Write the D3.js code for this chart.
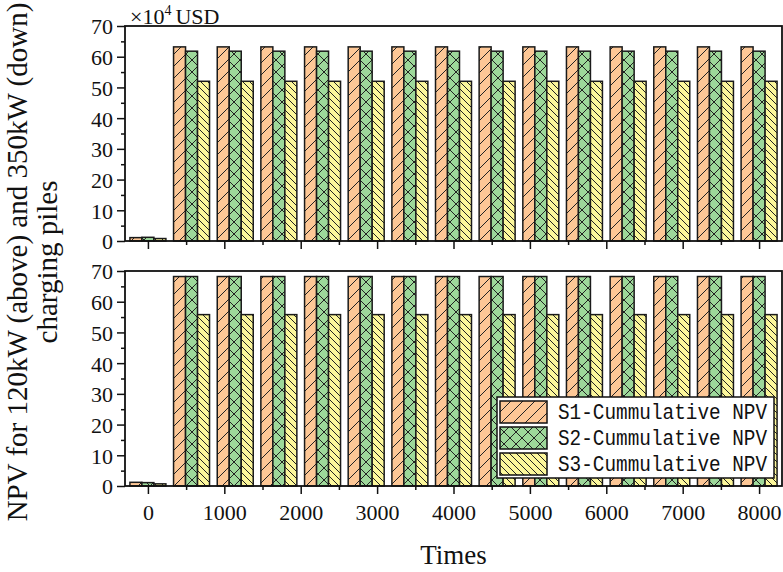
<!DOCTYPE html>
<html>
<head>
<meta charset="utf-8">
<script src="https://cdn.jsdelivr.net/npm/d3@7"></script>
<style>
  body { margin: 0; background: #fff; }
  svg { display: block; }
  text { font-family: "Liberation Serif", "Times New Roman", serif; fill: #111; }
</style>
</head>
<body>
<div id="viz"></div>
<script>
const times = [0, 571, 1143, 1714, 2286, 2857, 3429, 4000, 4571, 5143, 5714, 6286, 6857, 7429, 8000];

// upper panel: 120kW piles
const topS1 = [1.1, 63.2, 63.2, 63.2, 63.2, 63.2, 63.2, 63.2, 63.2, 63.2, 63.2, 63.2, 63.2, 63.2, 63.2];
const topS2 = [1.2, 61.8, 61.8, 61.8, 61.8, 61.8, 61.8, 61.8, 61.8, 61.8, 61.8, 61.8, 61.8, 61.8, 61.8];
const topS3 = [0.8, 52.0, 52.0, 52.0, 52.0, 52.0, 52.0, 52.0, 52.0, 52.0, 52.0, 52.0, 52.0, 52.0, 52.0];

// lower panel: 350kW piles
const botS1 = [1.2, 68.2, 68.2, 68.2, 68.2, 68.2, 68.2, 68.2, 68.2, 68.2, 68.2, 68.2, 68.2, 68.2, 68.2];
const botS2 = [1.1, 68.2, 68.2, 68.2, 68.2, 68.2, 68.2, 68.2, 68.2, 68.2, 68.2, 68.2, 68.2, 68.2, 68.2];
const botS3 = [0.7, 55.8, 55.8, 55.8, 55.8, 55.8, 55.8, 55.8, 55.8, 55.8, 55.8, 55.8, 55.8, 55.8, 55.8];

const seriesNames = ['S1-Cummulative NPV', 'S2-Cummulative NPV', 'S3-Cummulative NPV'];
const yTicks = [0, 10, 20, 30, 40, 50, 60, 70];
const xTicks = [0, 1000, 2000, 3000, 4000, 5000, 6000, 7000, 8000];

const width = 783, height = 572,
    left = 125, right = 782,
    barUnits = 157,
    fills = ['#fdc796', '#9dd89a', '#fcf79b'],
    patIds = ['hatchS1', 'hatchS2', 'hatchS3'];

const svg = d3.select('#viz').append('svg')
    .attr('width', width)
    .attr('height', height);

// hatch patterns
const defs = svg.append('defs');
function pattern(id, size, fill, paths) {
    const p = defs.append('pattern')
        .attr('id', id)
        .attr('patternUnits', 'userSpaceOnUse')
        .attr('width', size).attr('height', size);
    p.append('rect').attr('width', size).attr('height', size).attr('fill', fill);
    paths.forEach(d => p.append('path').attr('d', d)
        .attr('stroke', '#222').attr('stroke-width', 1).attr('fill', 'none'));
}
pattern('hatchS1', 12, fills[0], ['M0,12 L12,0', 'M-3,3 L3,-3', 'M9,15 L15,9']);
pattern('hatchS2', 12, fills[1], ['M0,12 L12,0', 'M-3,3 L3,-3', 'M9,15 L15,9',
    'M0,0 L12,12', 'M-3,9 L3,15', 'M9,-3 L15,3']);
pattern('hatchS3', 7, fills[2], ['M0,0 L7,7', 'M-2,5 L2,9', 'M5,-2 L9,2']);

const x = d3.scaleLinear().domain([-300, 8300]).range([left, right]);
const barW = x(barUnits) - x(0);

const panels = [
    {top: 26, bottom: 241, data: [topS1, topS2, topS3], labels: false},
    {top: 271, bottom: 486, data: [botS1, botS2, botS3], labels: true}
];

panels.forEach(function(pn) {
    const y = d3.scaleLinear().domain([0, 70]).range([pn.bottom, pn.top]);
    const g = svg.append('g');

    pn.data.forEach(function(vals, s) {
        g.selectAll('rect.s' + s)
            .data(vals)
            .enter().append('rect')
            .attr('class', 's' + s)
            .attr('x', (d, i) => x(times[i]) + (s - 1.5) * barW)
            .attr('y', d => y(d))
            .attr('width', barW)
            .attr('height', d => y(0) - y(d))
            .attr('fill', 'url(#' + patIds[s] + ')')
            .attr('stroke', '#1a1a1a')
            .attr('stroke-width', 1.5);
    });

    // y axis
    const yAxis = g.append('g')
        .attr('transform', 'translate(' + left + ',0)')
        .call(d3.axisLeft(y).tickValues(yTicks).tickSize(8).tickSizeOuter(0).tickPadding(4));
    yAxis.select('.domain').remove();
    yAxis.selectAll('line').attr('stroke', '#111').attr('stroke-width', 1.5);
    yAxis.selectAll('text').style('font-size', '22px').attr('dy', '0.36em');

    const yMinor = g.append('g')
        .attr('transform', 'translate(' + left + ',0)')
        .call(d3.axisLeft(y).tickValues(d3.range(5, 70, 10)).tickSize(4).tickFormat(''));
    yMinor.select('.domain').remove();
    yMinor.selectAll('line').attr('stroke', '#111').attr('stroke-width', 1.5);

    // x axis
    const xAxis = g.append('g')
        .attr('transform', 'translate(0,' + pn.bottom + ')')
        .call(d3.axisBottom(x).tickValues(xTicks).tickSize(8).tickSizeOuter(0).tickPadding(10)
            .tickFormat(pn.labels ? d3.format('d') : ''));
    xAxis.select('.domain').remove();
    xAxis.selectAll('line').attr('stroke', '#111').attr('stroke-width', 1.5);
    xAxis.selectAll('text').style('font-size', '22px');

    const xMinor = g.append('g')
        .attr('transform', 'translate(0,' + pn.bottom + ')')
        .call(d3.axisBottom(x).tickValues(d3.range(500, 8300, 1000)).tickSize(4).tickFormat(''));
    xMinor.select('.domain').remove();
    xMinor.selectAll('line').attr('stroke', '#111').attr('stroke-width', 1.5);

    // frame
    g.append('rect')
        .attr('x', left).attr('y', pn.top)
        .attr('width', right - left).attr('height', pn.bottom - pn.top)
        .attr('fill', 'none').attr('stroke', '#111').attr('stroke-width', 1.8);
});

// unit label
const unit = svg.append('text').attr('x', 130).attr('y', 24).style('font-size', '22px');
unit.append('tspan').text('×10');
unit.append('tspan').text('4').attr('dy', -9).style('font-size', '14px');
unit.append('tspan').text('USD').attr('dy', 9).attr('dx', 4);

// legend
const legend = svg.append('g');
legend.append('rect')
    .attr('x', 497).attr('y', 397).attr('width', 277).attr('height', 81)
    .attr('fill', '#fff').attr('stroke', '#111').attr('stroke-width', 1.5);
seriesNames.forEach(function(name, s) {
    const ly = 401 + s * 26;
    legend.append('rect')
        .attr('x', 500).attr('y', ly).attr('width', 47).attr('height', 22)
        .attr('fill', 'url(#' + patIds[s] + ')')
        .attr('stroke', '#111').attr('stroke-width', 1.5);
    // monospace label, squeezed horizontally to the reference width
    legend.append('text')
        .attr('transform', 'translate(558,' + (ly + 18) + ') scale(0.88,1)')
        .style('font-family', '"Liberation Mono", monospace')
        .style('font-size', '22px')
        .text(name);
});

// axis titles
svg.append('text')
    .attr('x', (left + right) / 2).attr('y', 564)
    .attr('text-anchor', 'middle')
    .style('font-size', '27px')
    .text('Times');

const ytitle = svg.append('text')
    .attr('transform', 'translate(0,262) rotate(-90)')
    .attr('text-anchor', 'middle')
    .style('font-size', '29px');
ytitle.append('tspan').attr('x', 0).attr('y', 27).text('NPV for 120kW (above) and 350kW (down)');
ytitle.append('tspan').attr('x', 0).attr('y', 57).text('charging piles');
</script>
</body>
</html>
